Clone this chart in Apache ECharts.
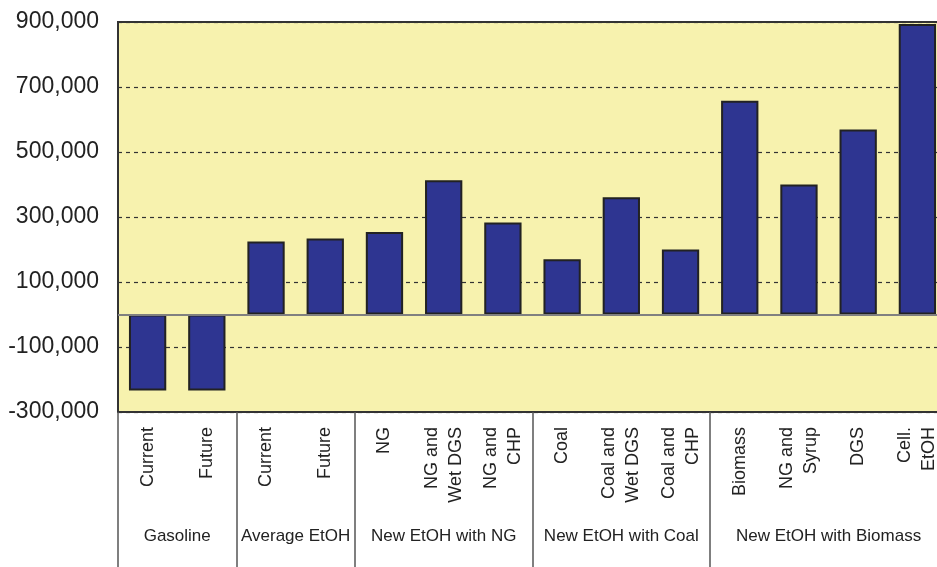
<!DOCTYPE html>
<html>
<head>
<meta charset="utf-8">
<script src="https://cdn.jsdelivr.net/npm/echarts@6/dist/echarts.min.js"></script>
<style>
  html, body { margin: 0; padding: 0; background: #fff; }
  #chart { width: 937px; height: 567px; }
</style>
</head>
<body>
<div id="chart"></div>
<script>
// categories (bar labels) and values
var categories = [
  'Current', 'Future',
  'Current', 'Future',
  'NG', 'NG and\nWet DGS', 'NG and\nCHP',
  'Coal', 'Coal and\nWet DGS', 'Coal and\nCHP',
  'Biomass', 'NG and\nSyrup', 'DGS', 'Cell.\nEtOH'
]
var values = [
  -234000, -234000,
  225000, 234000,
  254000, 413000, 283000,
  170000, 361000, 200000,
  658000, 400000, 569000, 894000
]
// groups under the axis
var groups = ['Gasoline', 'Average EtOH', 'New EtOH with NG', 'New EtOH with Coal', 'New EtOH with Biomass']
var groupSizes = [2, 2, 3, 3, 4]

// y axis range
var yMin = -300000
var yMax = 900000
var yStep = 100000

// 计算分组起点和中心
var groupStarts = []
var groupCenters = {}
var pos = 0
groupSizes.forEach(function (n, i) {
  groupStarts.push(pos)
  groupCenters[pos + n / 2] = groups[i]
  pos += n
})

var font = '"Liberation Sans", Arial, Helvetica, sans-serif'
var chart = echarts.init(document.getElementById('chart'))

var option = {
  animation: false,
  grid: {
    left: 118,
    top: 22,
    right: -10,
    bottom: 155,
    outerBoundsMode: 'none',
    containLabel: false,
    show: true,
    backgroundColor: '#F7F2AE',
    borderColor: '#333',
    borderWidth: 2
  },
  xAxis: [
    {
      type: 'category',
      data: categories,
      position: 'bottom',
      axisLine: { onZero: false, lineStyle: { color: '#333', width: 2 } },
      axisTick: {
        show: true,
        length: 160,
        interval: function (i) { return groupStarts.indexOf(i) >= 0 },
        lineStyle: { color: '#555', width: 1.5 }
      },
      axisLabel: {
        interval: 0,
        rotate: 90,
        margin: 15,
        fontSize: 18,
        lineHeight: 24,
        color: '#222',
        fontFamily: font
      },
      splitLine: { show: false }
    },
    {
      type: 'value',
      min: 0,
      max: categories.length,
      interval: 0.5,
      position: 'bottom',
      axisLine: { show: false },
      axisTick: { show: false },
      splitLine: { show: false },
      axisLabel: {
        margin: 116,
        fontSize: 17,
        color: '#222',
        fontFamily: font,
        formatter: function (v) { return groupCenters[v] || '' }
      }
    }
  ],
  yAxis: {
    type: 'value',
    min: yMin,
    max: yMax,
    interval: yStep,
    axisLine: { show: true, lineStyle: { color: '#333', width: 2 } },
    axisTick: { show: false },
    axisLabel: {
      margin: 19,
      fontSize: 23,
      color: '#222',
      fontFamily: font,
      formatter: function (v) {
        return Math.round(v / yStep) % 2 !== 0 ? v.toLocaleString('en-US') : ''
      }
    },
    splitLine: {
      show: true,
      lineStyle: { color: ['#333', 'transparent'], type: [4, 4], width: 1.2 }
    }
  },
  series: [
    {
      type: 'bar',
      xAxisIndex: 0,
      data: values,
      barWidth: '63%',
      itemStyle: { color: '#2E3591', borderColor: '#222', borderWidth: 2 },
      markLine: {
        silent: true,
        symbol: ['none', 'none'],
        label: { show: false },
        lineStyle: { color: '#808080', type: 'solid', width: 2 },
        data: [{ yAxis: 0 }]
      }
    }
  ]
}

chart.setOption(option)
window.onresize = function () { chart.resize() }
</script>
</body>
</html>
